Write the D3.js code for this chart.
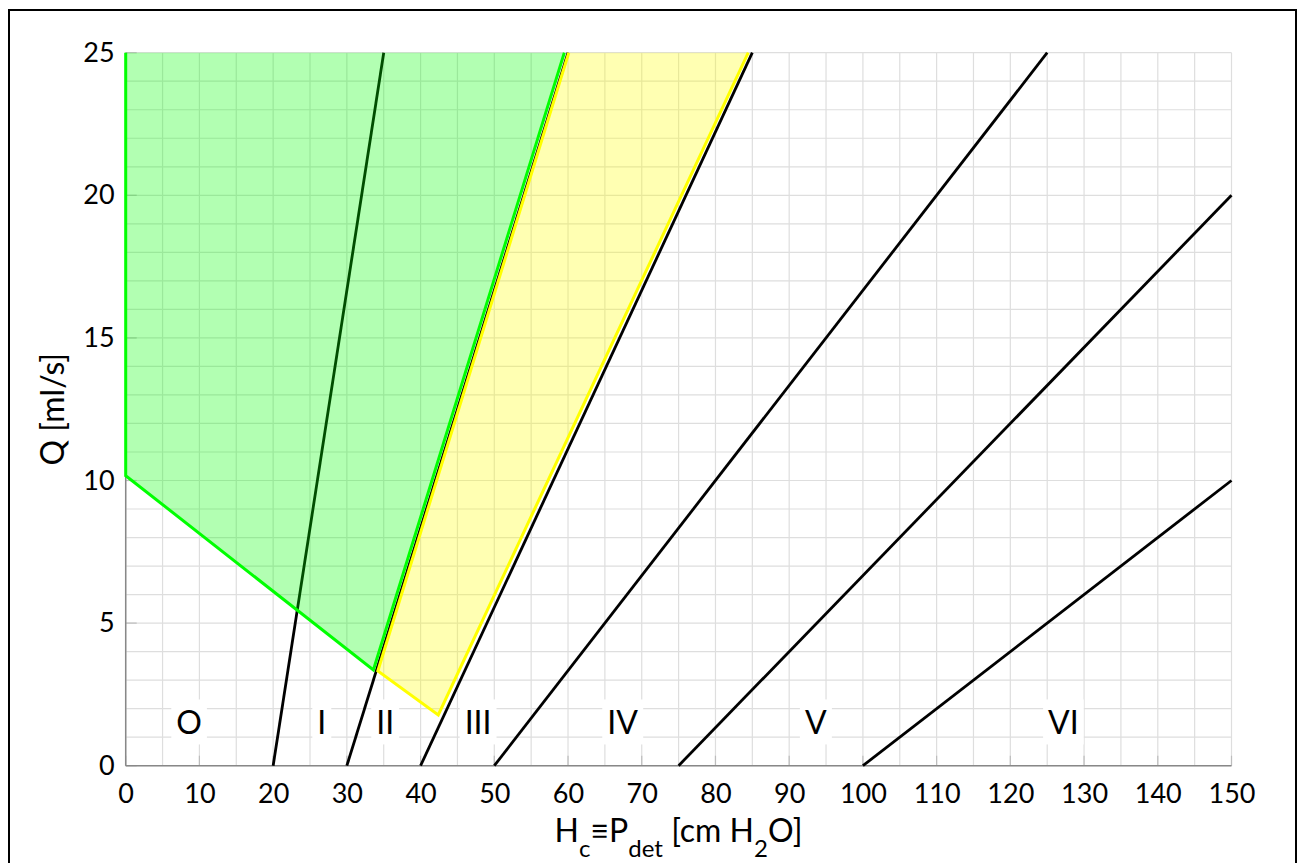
<!DOCTYPE html>
<html>
<head>
<meta charset="utf-8">
<script src="https://cdn.jsdelivr.net/npm/d3@7"></script>
<style>
  body { margin: 0; background: #fff; }
  svg { display: block; font-family: Lato, "Noto Sans", sans-serif; }
</style>
</head>
<body>
<script>
// grade boundary lines (P_det start at Q=0, end point)
const lineStartP = [20, 30, 40, 50, 75, 100];
const lineEndP = [35, 60, 85, 125, 150, 150];
const lineEndQ = [25, 25, 25, 25, 20, 10];

// grade labels
const gradeNames = ["O", "I", "II", "III", "IV", "V", "VI"];
const gradeLabelP = [8.6, 26.6, 35.2, 47.8, 67.4, 93.6, 127.2];
const gradeLabelQ = [1.5, 1.5, 1.5, 1.5, 1.5, 1.5, 1.5];

// shaded zones
const greenZoneP = [0, 0, 33.6, 59.5];
const greenZoneQ = [25, 10.17, 3.36, 25];
const yellowZoneP = [60.1, 34.2, 42.4, 84.45];
const yellowZoneQ = [25, 3.32, 1.78, 25];

// axis ticks
const xTickValues = [0, 10, 20, 30, 40, 50, 60, 70, 80, 90, 100, 110, 120, 130, 140, 150];
const yTickValues = [0, 5, 10, 15, 20, 25];

const W = 1298, H = 863;
const margin = {left: 125.7, top: 52.7, right: 66.5, bottom: 97.3};
const iw = W - margin.left - margin.right;
const ih = H - margin.top - margin.bottom;

const svg = d3.select("body").append("svg")
    .attr("width", W)
    .attr("height", H);

// outer frame
svg.append("rect")
    .attr("x", 9).attr("y", 10)
    .attr("width", 1287).attr("height", 870)
    .attr("fill", "none")
    .attr("stroke", "#000")
    .attr("stroke-width", 2);

const g = svg.append("g")
    .attr("transform", "translate(" + margin.left + "," + margin.top + ")");

const x = d3.scaleLinear().domain([0, 150]).range([0, iw]);
const y = d3.scaleLinear().domain([0, 25]).range([ih, 0]);

// grid
g.append("g").selectAll("line")
    .data(x.ticks(30))
    .enter().append("line")
    .attr("x1", d => x(d)).attr("x2", d => x(d))
    .attr("y1", 0).attr("y2", ih)
    .attr("stroke", "#dedede").attr("stroke-width", 1.2);
g.append("g").selectAll("line")
    .data(y.ticks(25))
    .enter().append("line")
    .attr("x1", 0).attr("x2", iw)
    .attr("y1", d => y(d)).attr("y2", d => y(d))
    .attr("stroke", "#dedede").attr("stroke-width", 1.2);

// small inner ticks
g.append("g").selectAll("line")
    .data(xTickValues)
    .enter().append("line")
    .attr("x1", d => x(d)).attr("x2", d => x(d))
    .attr("y1", ih).attr("y2", ih - 10)
    .attr("stroke", "#bdbdbd").attr("stroke-width", 1.2);
g.append("g").selectAll("line")
    .data(yTickValues)
    .enter().append("line")
    .attr("x1", 0).attr("x2", 11)
    .attr("y1", d => y(d)).attr("y2", d => y(d))
    .attr("stroke", "#bdbdbd").attr("stroke-width", 1.2);

// axis lines
g.append("line")
    .attr("x1", 0).attr("x2", iw).attr("y1", ih).attr("y2", ih)
    .attr("stroke", "#888").attr("stroke-width", 1.5);
g.append("line")
    .attr("x1", 0).attr("x2", 0).attr("y1", 0).attr("y2", ih)
    .attr("stroke", "#888").attr("stroke-width", 1.5);

// grade lines
g.append("g").selectAll("line")
    .data(lineStartP)
    .enter().append("line")
    .attr("x1", d => x(d))
    .attr("y1", y(0))
    .attr("x2", (d, i) => x(lineEndP[i]))
    .attr("y2", (d, i) => y(lineEndQ[i]))
    .attr("stroke", "#000")
    .attr("stroke-width", 2.8);

// zones: translucent fill on top, then open outline
function zone(ps, qs, color) {
    let pts = ps.map((p, i) => [x(p), y(qs[i])]);
    g.append("path")
        .attr("d", d3.line()(pts) + "Z")
        .attr("fill", color)
        .attr("fill-opacity", 0.3)
        .attr("stroke", "none");
    g.append("path")
        .attr("d", d3.line()(pts))
        .attr("fill", "none")
        .attr("stroke", color)
        .attr("stroke-width", 3)
        .attr("stroke-linejoin", "miter");
}
zone(greenZoneP, greenZoneQ, "#00ff00");
zone(yellowZoneP, yellowZoneQ, "#ffff00");

// grade labels with white boxes
let labels = g.append("g").selectAll("g")
    .data(gradeNames)
    .enter().append("g")
    .attr("transform", (d, i) => "translate(" + x(gradeLabelP[i]) + "," + y(gradeLabelQ[i]) + ")");
let boxes = labels.append("rect").attr("fill", "#fff");
let texts = labels.append("text")
    .attr("text-anchor", "middle")
    .attr("dy", "0.36em")
    .attr("font-size", 32)
    .attr("fill", "#000")
    .text(d => d);
texts.each(function(d, i) {
    let b = this.getBBox();
    d3.select(boxes.nodes()[i])
        .attr("x", b.x - 5).attr("y", b.y - 3)
        .attr("width", b.width + 10).attr("height", b.height + 6);
});

// tick labels
g.append("g")
    .attr("transform", "translate(0," + ih + ")")
    .call(d3.axisBottom(x).tickValues(xTickValues).tickSize(0).tickPadding(18))
    .call(a => a.select(".domain").remove())
    .selectAll("text")
    .attr("font-size", 27)
    .attr("font-family", "Lato, sans-serif")
    .attr("fill", "#000");
g.append("g")
    .call(d3.axisLeft(y).tickValues(yTickValues).tickSize(0).tickPadding(11))
    .call(a => a.select(".domain").remove())
    .selectAll("text")
    .attr("font-size", 27)
    .attr("font-family", "Lato, sans-serif")
    .attr("fill", "#000");

// axis titles
let xt = svg.append("text")
    .attr("x", margin.left + iw / 2)
    .attr("y", 842)
    .attr("text-anchor", "middle")
    .attr("font-size", 32)
    .attr("fill", "#000");
xt.append("tspan").text("H");
xt.append("tspan").attr("dy", 15).attr("font-size", 24).text("c");
xt.append("tspan").attr("dy", -15).text("\u2261P");
xt.append("tspan").attr("dy", 15).attr("font-size", 24).text("det");
xt.append("tspan").attr("dy", -15).text(" [cm H");
xt.append("tspan").attr("dy", 15).attr("font-size", 24).text("2");
xt.append("tspan").attr("dy", -15).text("O]");

svg.append("text")
    .attr("transform", "translate(64," + (margin.top + ih / 2) + ") rotate(-90)")
    .attr("text-anchor", "middle")
    .attr("font-size", 32)
    .attr("fill", "#000")
    .text("Q [ml/s]");
</script>
</body>
</html>
